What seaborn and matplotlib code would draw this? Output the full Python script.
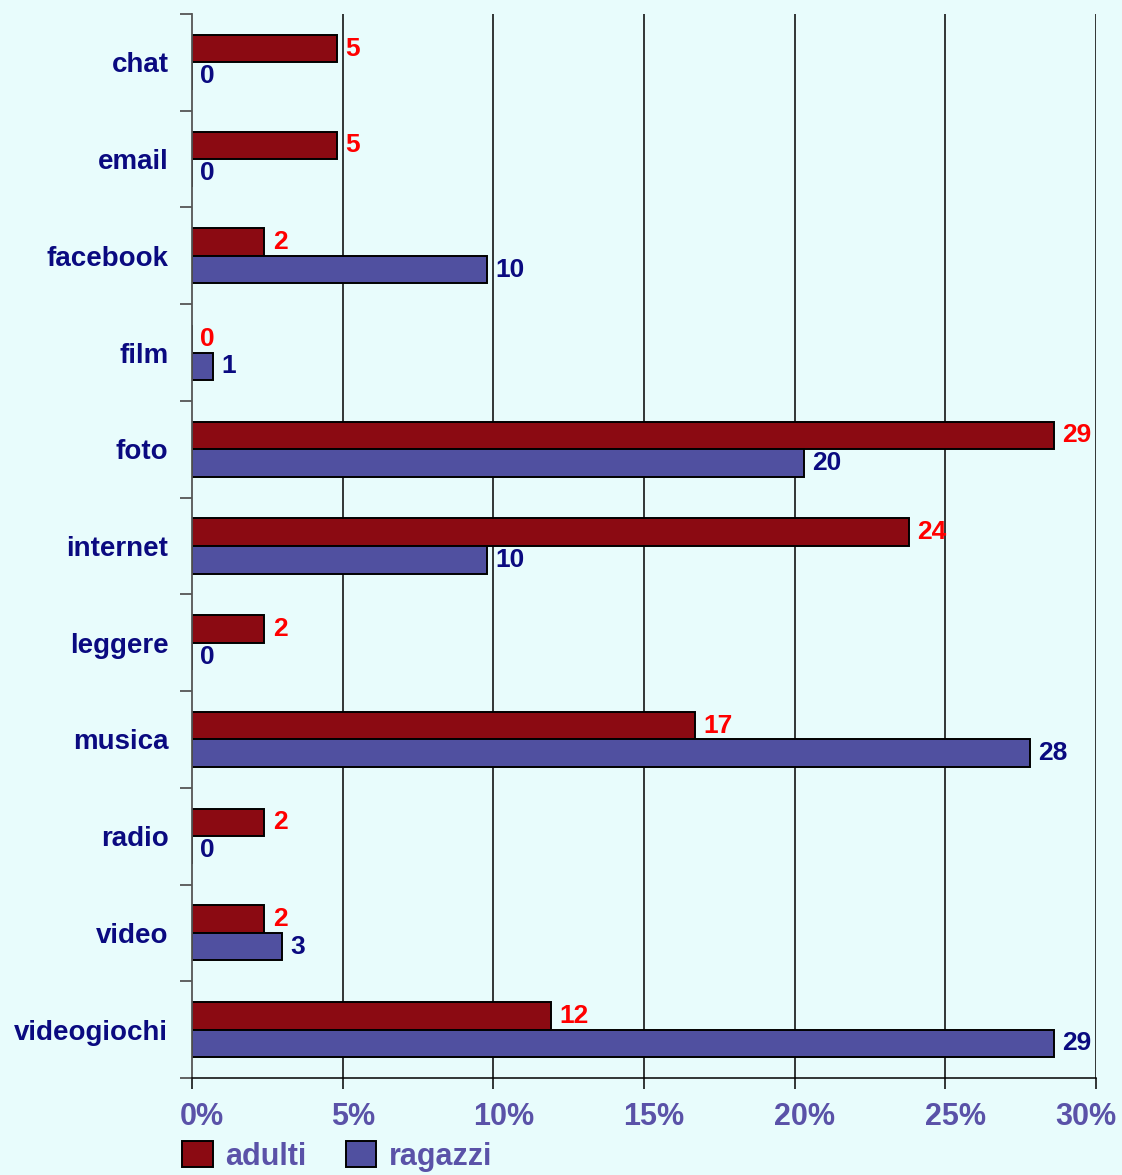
import numpy as np
import pandas as pd
import seaborn as sns
import matplotlib.pyplot as plt
from matplotlib.patches import Patch
from matplotlib.ticker import FixedLocator, FuncFormatter
import matplotlib.transforms as mtransforms

categories = ["chat", "email", "facebook", "film", "foto", "internet",
              "leggere", "musica", "radio", "video", "videogiochi"]
adulti = [4.8, 4.8, 2.4, 0.0, 28.6, 23.8, 2.4, 16.7, 2.4, 2.4, 11.9]
ragazzi = [0.0, 0.0, 9.8, 0.7, 20.3, 9.8, 0.0, 27.8, 0.0, 3.0, 28.6]
series_names = ["adulti", "ragazzi"]
x_ticks = [0, 5, 10, 15, 20, 25, 30]

col_adulti = "#8B0A12"
col_ragazzi = "#5050A0"
bg = "#E8FCFC"

df = pd.DataFrame({
    "categoria": categories * 2,
    "valore": adulti + ragazzi,
    "gruppo": ["adulti"] * len(categories) + ["ragazzi"] * len(categories),
})

sns.set_theme(style="white")
plt.rcParams["font.family"] = ["Liberation Sans", "DejaVu Sans"]

fig = plt.figure(figsize=(11.22, 11.75), dpi=100)
fig.patch.set_facecolor(bg)
ax = fig.add_axes([192 / 1122, 1 - 1078 / 1175, (1096 - 192) / 1122, (1078 - 14) / 1175])
ax.set_facecolor(bg)

sns.barplot(data=df, y="categoria", x="valore", hue="gruppo", orient="h",
            palette={"adulti": col_adulti, "ragazzi": col_ragazzi},
            saturation=1, width=0.57, gap=0, edgecolor="black", linewidth=1.4,
            legend=False, ax=ax, errorbar=None)

ax.set_xlim(0, 30)
ax.set_ylim(len(categories) - 0.5, -0.5)
ax.set_xlabel("")
ax.set_ylabel("")

# grid
for t in x_ticks[1:]:
    ax.axvline(t, color="black", linewidth=1.1, zorder=0)

for s in ["top", "right"]:
    ax.spines[s].set_visible(False)
ax.spines["left"].set_color("#555555")
ax.spines["left"].set_linewidth(1.3)
ax.spines["bottom"].set_color("black")
ax.spines["bottom"].set_linewidth(1.1)

# x ticks
ax.set_xticks(x_ticks)
ax.xaxis.set_major_formatter(FuncFormatter(lambda v, p: f"{int(v)}%"))
ax.tick_params(axis="x", direction="out", length=8, width=1.1, color="black",
               pad=9, labelsize=22, labelcolor="#5A52A8", bottom=True)
for lbl in ax.get_xticklabels():
    lbl.set_fontweight("bold")
xl = ax.get_xticklabels()
for i, lbl in enumerate(xl):
    dx = 10 / 100 if i < len(xl) - 1 else -10 / 100
    lbl.set_transform(lbl.get_transform() + mtransforms.ScaledTranslation(dx, 0, fig.dpi_scale_trans))

# y ticks: labels without marks, boundary marks as minor ticks
ax.tick_params(axis="y", which="major", length=0, pad=17, labelsize=20,
               labelcolor="#0A0A80", left=True)
for lbl in ax.get_yticklabels():
    lbl.set_fontweight("bold")
ax.yaxis.set_minor_locator(FixedLocator(np.arange(-0.5, len(categories), 1.0)))
ax.tick_params(axis="y", which="minor", direction="out", length=9, width=1.3,
               color="#555555", left=True)

# value labels
ax.bar_label(ax.containers[0], labels=[f"{round(v)}" for v in adulti], padding=6,
             color="#FF0000", fontsize=19, fontweight="bold")
ax.bar_label(ax.containers[1], labels=[f"{round(v)}" for v in ragazzi], padding=6,
             color="#0A0A80", fontsize=19, fontweight="bold")

# legend
handles = [Patch(facecolor=col_adulti, edgecolor="black", linewidth=1.4),
           Patch(facecolor=col_ragazzi, edgecolor="black", linewidth=1.4)]
leg = fig.legend(handles, series_names, loc="upper left",
                 bbox_to_anchor=(182 / 1122, 1 - 1141 / 1175), ncol=2,
                 frameon=False, fontsize=22, handlelength=1.0, handleheight=0.95,
                 handletextpad=0.4, columnspacing=1.3, borderpad=0, borderaxespad=0)
for t in leg.get_texts():
    t.set_color("#5A52A8")
    t.set_fontweight("bold")

fig.savefig("out.png", dpi=100, facecolor=bg)
